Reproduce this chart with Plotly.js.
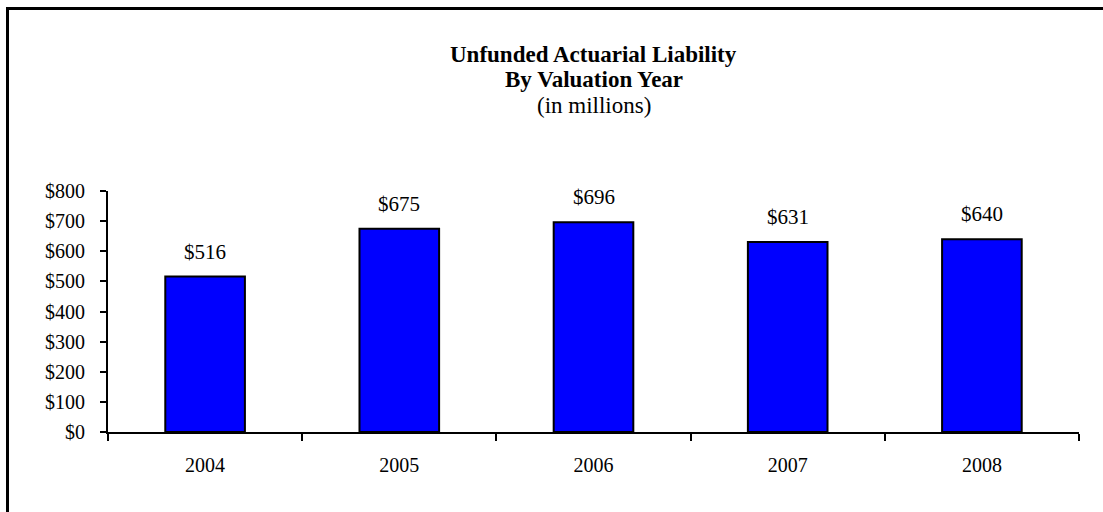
<!DOCTYPE html>
<html>
<head>
<meta charset="utf-8">
<script src="https://cdn.plot.ly/plotly-3.0.1.min.js"></script>
<style>html,body{margin:0;padding:0;background:#fff;}#chart{width:1103px;height:512px;}</style>
</head>
<body>
<div id="chart"></div>
<script>
const years = ["2004", "2005", "2006", "2007", "2008"];
const liability = [516, 675, 696, 631, 640];
const valueLabels = ["$516", "$675", "$696", "$631", "$640"];
const yTickVals = [0, 100, 200, 300, 400, 500, 600, 700, 800];
const yTickText = ["$0", "$100", "$200", "$300", "$400", "$500", "$600", "$700", "$800"];
const titleLines = ["<b>Unfunded Actuarial Liability</b>", "<b>By Valuation Year</b>", "(in millions)"];

const font = "Liberation Serif, Times New Roman, serif";

const trace = {
  type: "bar",
  x: years,
  y: liability,
  marker: {color: "#0000ff", line: {color: "#000000", width: 2}},
  hoverinfo: "none"
};

const annotations = years.map((yr, i) => ({
  x: i, y: liability[i], xref: "x", yref: "y",
  text: valueLabels[i], showarrow: false,
  yanchor: "middle", yshift: 25,
  font: {family: font, size: 21, color: "#000"}
}));

// title lines centred at y = 54, 80, 106 px
const titleY = [1.568, 1.461, 1.353];
titleLines.forEach((t, i) => annotations.push({
  xref: "paper", yref: "paper", x: 0.5, y: titleY[i],
  xanchor: "center", yanchor: "middle",
  text: t, showarrow: false,
  font: {family: font, size: 23, color: "#000"}
}));

const layout = {
  width: 1103, height: 512,
  margin: {l: 108, r: 24, t: 191, b: 80},
  paper_bgcolor: "#fff", plot_bgcolor: "#fff",
  showlegend: false,
  bargap: 0.59,
  font: {family: font, size: 20, color: "#000"},
  xaxis: {
    type: "category",
    range: [-0.5, 4.5],
    showline: true, linecolor: "#000", linewidth: 2,
    ticks: "outside", tickson: "boundaries", ticklen: 7, tickwidth: 2, tickcolor: "#000",
    showgrid: false, zeroline: false,
    tickangle: 0,
    ticklabelstandoff: 14,
    tickfont: {family: font, size: 20, color: "#000"},
    fixedrange: true
  },
  yaxis: {
    range: [0, 800],
    tickmode: "array", tickvals: yTickVals, ticktext: yTickText,
    showline: true, linecolor: "#000", linewidth: 2,
    ticks: "outside", ticklen: 6, tickwidth: 2, tickcolor: "#000",
    showgrid: false, zeroline: false,
    ticklabelstandoff: 11,
    tickfont: {family: font, size: 20, color: "#000"},
    fixedrange: true
  },
  annotations: annotations,
  shapes: [{
    type: "rect", xref: "paper", yref: "paper",
    x0: -0.1035, x1: 1.03, y0: -0.35, y1: 1.757,
    line: {color: "#000", width: 3}, fillcolor: "rgba(0,0,0,0)"
  }]
};

Plotly.newPlot("chart", [trace], layout, {displayModeBar: false, staticPlot: true});
</script>
</body>
</html>
